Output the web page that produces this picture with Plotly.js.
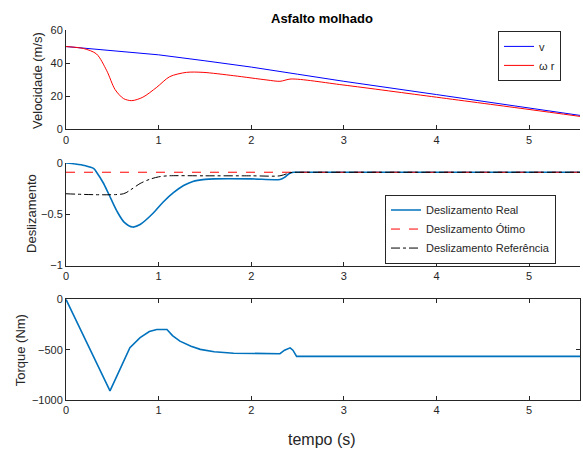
<!DOCTYPE html>
<html>
<head>
<meta charset="utf-8">
<script src="https://cdn.plot.ly/plotly-3.0.1.min.js"></script>
<style>html,body{margin:0;padding:0;background:#fff;}#chart{width:583px;height:451px;}</style>
</head>
<body>
<div id="chart"></div>
<script>
// Velocity panel
const tV = [0, 0.5, 1, 1.5, 2, 2.5, 3, 4, 5, 5.55];
const vVals = [50, 47.6, 45.0, 41.4, 37.6, 33.3, 29.0, 21.0, 13.1, 8.4];
const tWr = [0, 0.19, 0.33, 0.44, 0.53, 0.62, 0.71, 0.83, 0.98, 1.12, 1.30, 1.48, 1.81, 2.17, 2.31, 2.43, 2.99, 4.0, 5.0, 5.55];
const wrVals = [50, 48.8, 45.5, 35.4, 24.0, 18.6, 17.3, 19.4, 25.4, 31.8, 34.4, 34.4, 32.4, 29.8, 29.0, 30.4, 26.8, 19.4, 12.0, 7.8];

// Slip panel
const tReal = [0, 0.1, 0.2, 0.3, 0.33, 0.4, 0.46, 0.55, 0.63, 0.72, 0.8, 0.94, 1.05, 1.16, 1.27, 1.37, 1.5, 1.6, 2.0, 2.31, 2.36, 2.40, 2.43, 2.46, 2.5, 3.0, 4.0, 5.0, 5.55];
const slipReal = [0, -0.01, -0.025, -0.055, -0.09, -0.19, -0.3, -0.47, -0.58, -0.625, -0.6, -0.49, -0.38, -0.29, -0.22, -0.18, -0.16, -0.155, -0.155, -0.16, -0.14, -0.11, -0.095, -0.09, -0.09, -0.09, -0.09, -0.09, -0.09];
const tOpt = [0, 5.55];
const slipOpt = [-0.09, -0.09];
const tRef = [0, 0.62, 0.7, 0.8, 0.9, 1.0, 1.1, 1.5, 2.0, 2.31, 2.4, 2.45, 2.5, 3.0, 4.0, 5.0, 5.55];
const slipRef = [-0.3, -0.3, -0.26, -0.2, -0.16, -0.135, -0.125, -0.125, -0.125, -0.125, -0.1, -0.09, -0.09, -0.09, -0.09, -0.09, -0.09];

// Torque panel
const tTq = [0, 0.475, 0.55, 0.69, 0.8, 0.9, 0.98, 1.09, 1.15, 1.23, 1.35, 1.45, 1.6, 1.81, 2.31, 2.36, 2.42, 2.45, 2.49, 5.55];
const torque = [0, -910, -760, -480, -380, -320, -300, -300, -360, -415, -465, -497, -520, -535, -540, -505, -482, -505, -567, -567];

const xTicks = [0, 1, 2, 3, 4, 5];
const yTicksV = [0, 20, 40, 60];
const yTicksS = [-1, -0.5, 0];
const yTicksT = [-1000, -500, 0];

const AX = '#262626';
const tickFont = {family: 'Liberation Sans, Arial, sans-serif', size: 11, color: AX};

function xa(anchor, mirror) {
  return {anchor: anchor, range: [0, 5.55], tickvals: xTicks, ticks: 'inside', ticklen: 4,
    tickcolor: AX, showline: true, linecolor: AX, linewidth: 1, mirror: mirror,
    showgrid: false, zeroline: false, tickfont: tickFont, fixedrange: true};
}
function ya(anchor, range, tv, domain, mirror) {
  return {anchor: anchor, range: range, tickvals: tv, domain: domain, ticks: 'inside', ticklen: 4,
    tickcolor: AX, showline: true, linecolor: AX, linewidth: 1, mirror: mirror,
    showgrid: false, zeroline: false, tickfont: tickFont, fixedrange: true};
}

const traces = [
  {x: tV, y: vVals, name: 'v', mode: 'lines', line: {color: '#0000ff', width: 1}, xaxis: 'x', yaxis: 'y', legend: 'legend'},
  {x: tWr, y: wrVals, name: 'ω r', mode: 'lines', line: {color: '#ff0000', width: 1, shape: 'spline', smoothing: 0.8}, xaxis: 'x', yaxis: 'y', legend: 'legend'},
  {x: tReal, y: slipReal, name: 'Deslizamento Real', mode: 'lines', line: {color: '#0072BD', width: 1.6, shape: 'spline', smoothing: 0.8}, xaxis: 'x2', yaxis: 'y2', legend: 'legend2'},
  {x: tOpt, y: slipOpt, name: 'Deslizamento Ótimo', mode: 'lines', line: {color: '#ff0000', width: 1, dash: 'dash'}, xaxis: 'x2', yaxis: 'y2', legend: 'legend2'},
  {x: tRef, y: slipRef, name: 'Deslizamento Referência', mode: 'lines', line: {color: '#000000', width: 1, dash: 'dashdot', shape: 'spline', smoothing: 0.8}, xaxis: 'x2', yaxis: 'y2', legend: 'legend2'},
  {x: tTq, y: torque, name: 'Torque', mode: 'lines', line: {color: '#0072BD', width: 1.6}, xaxis: 'x3', yaxis: 'y3', showlegend: false}
];

const legFont = {family: 'Liberation Sans, Arial, sans-serif', size: 11, color: AX};
const layout = {
  width: 583, height: 451,
  margin: {l: 66, r: 3, t: 30, b: 51, pad: 0},
  paper_bgcolor: '#ffffff', plot_bgcolor: '#ffffff',
  font: {family: 'Liberation Sans, Arial, sans-serif', color: AX},
  showlegend: true,
  xaxis: xa('y', false),
  yaxis: ya('x', [0, 60], yTicksV, [0.7316, 1], false),
  xaxis2: xa('y2', false),
  yaxis2: ya('x2', [-1, 0], yTicksS, [0.3635, 0.6405], false),
  xaxis3: xa('y3', 'ticks'),
  yaxis3: ya('x3', [-1000, 0], yTicksT, [0, 0.272], 'ticks'),
  legend: {x: 0.8405, y: 0.93, xanchor: 'left', yanchor: 'middle', bordercolor: AX, borderwidth: 1,
    bgcolor: '#ffffff', font: legFont, tracegroupgap: 0},
  legend2: {x: 0.6206, y: 0.462, xanchor: 'left', yanchor: 'middle', bordercolor: AX, borderwidth: 1,
    bgcolor: '#ffffff', font: legFont, tracegroupgap: 0, entrywidth: 176, entrywidthmode: 'pixels'},
  annotations: [
    {text: '<b>Asfalto molhado</b>', xref: 'paper', yref: 'paper', x: 0.499, y: 1.032, xanchor: 'center', yanchor: 'middle', showarrow: false, font: {size: 13, color: '#000000'}},
    {text: 'tempo (s)', xref: 'paper', yref: 'paper', x: 0.499, y: -0.108, xanchor: 'center', yanchor: 'middle', showarrow: false, font: {size: 16, color: AX}},
    {text: 'Velocidade (m/s)', xref: 'paper', yref: 'paper', x: -0.0545, y: 0.865, xanchor: 'center', yanchor: 'middle', textangle: -90, showarrow: false, font: {size: 13, color: AX}},
    {text: 'Deslizamento', xref: 'paper', yref: 'paper', x: -0.066, y: 0.503, xanchor: 'center', yanchor: 'middle', textangle: -90, showarrow: false, font: {size: 13, color: AX}},
    {text: 'Torque (Nm)', xref: 'paper', yref: 'paper', x: -0.089, y: 0.135, xanchor: 'center', yanchor: 'middle', textangle: -90, showarrow: false, font: {size: 13, color: AX}}
  ]
};

Plotly.newPlot('chart', traces, layout, {displayModeBar: false, staticPlot: true});
</script>
</body>
</html>
